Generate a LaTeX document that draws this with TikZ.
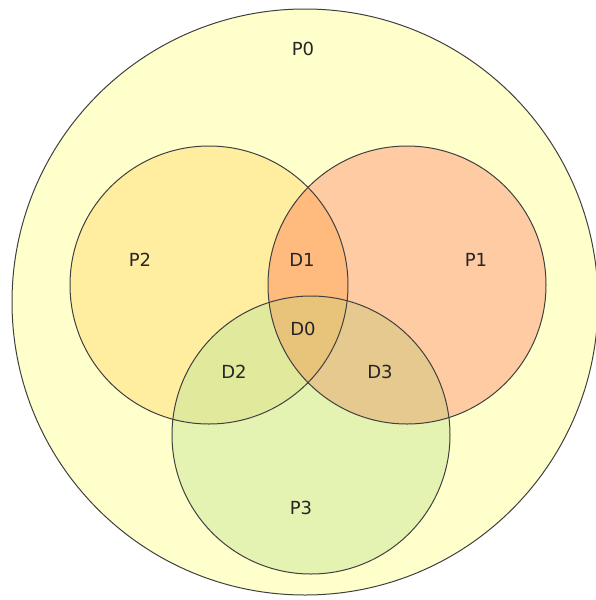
\documentclass[tikz,border=0pt]{standalone}
\usepackage{fontspec}
\setmainfont{DejaVu Sans}
\definecolor{cP0}{HTML}{FFFFCC}
\definecolor{cP2}{HTML}{FFEDA0}
\definecolor{cP1}{HTML}{FFCBA2}
\definecolor{cP3}{HTML}{E5F3B2}
\definecolor{cD1}{HTML}{FFBA7E}
\definecolor{cD0}{HTML}{E8C37A}
\definecolor{cD2}{HTML}{E0E99C}
\definecolor{cD3}{HTML}{E6C98F}
\tikzset{ring/.style={draw=black!75, line width=1pt},
  lbl/.style={font=\fontsize{18}{20}\selectfont, text=black!85}}
\begin{document}
\begin{tikzpicture}[x=1pt,y=-1pt]
\useasboundingbox (0,0) rectangle (596,600);
\coordinate (c0) at (305,302);
\coordinate (c2) at (209,285);
\coordinate (c1) at (407,285);
\coordinate (c3) at (311,435);
\fill[cP0] (c0) circle (293);
\fill[cP2] (c2) circle (139);
\fill[cP1] (c1) circle (139);
\fill[cP3] (c3) circle (139);
\begin{scope}
  \clip (c2) circle (139);
  \fill[cD1] (c1) circle (139);
  \fill[cD2] (c3) circle (139);
\end{scope}
\begin{scope}
  \clip (c1) circle (139);
  \fill[cD3] (c3) circle (139);
\end{scope}
\begin{scope}
  \clip (c1) circle (139);
  \clip (c2) circle (139);
  \fill[cD0] (c3) circle (139);
\end{scope}
\draw[ring] (c0) circle (293);
\draw[ring] (c2) circle (139);
\draw[ring] (c1) circle (139);
\draw[ring] (c3) circle (139);
\node[lbl] (p0) at (303,49) {P0};
\node[lbl] (p2) at (140,260) {P2};
\node[lbl] (p1) at (476,260) {P1};
\node[lbl] (d1) at (302,260) {D1};
\node[lbl] (d0) at (303,329) {D0};
\node[lbl] (d2) at (234,372) {D2};
\node[lbl] (d3) at (380,372) {D3};
\node[lbl] (p3) at (301,508) {P3};
\end{tikzpicture}
\end{document}
